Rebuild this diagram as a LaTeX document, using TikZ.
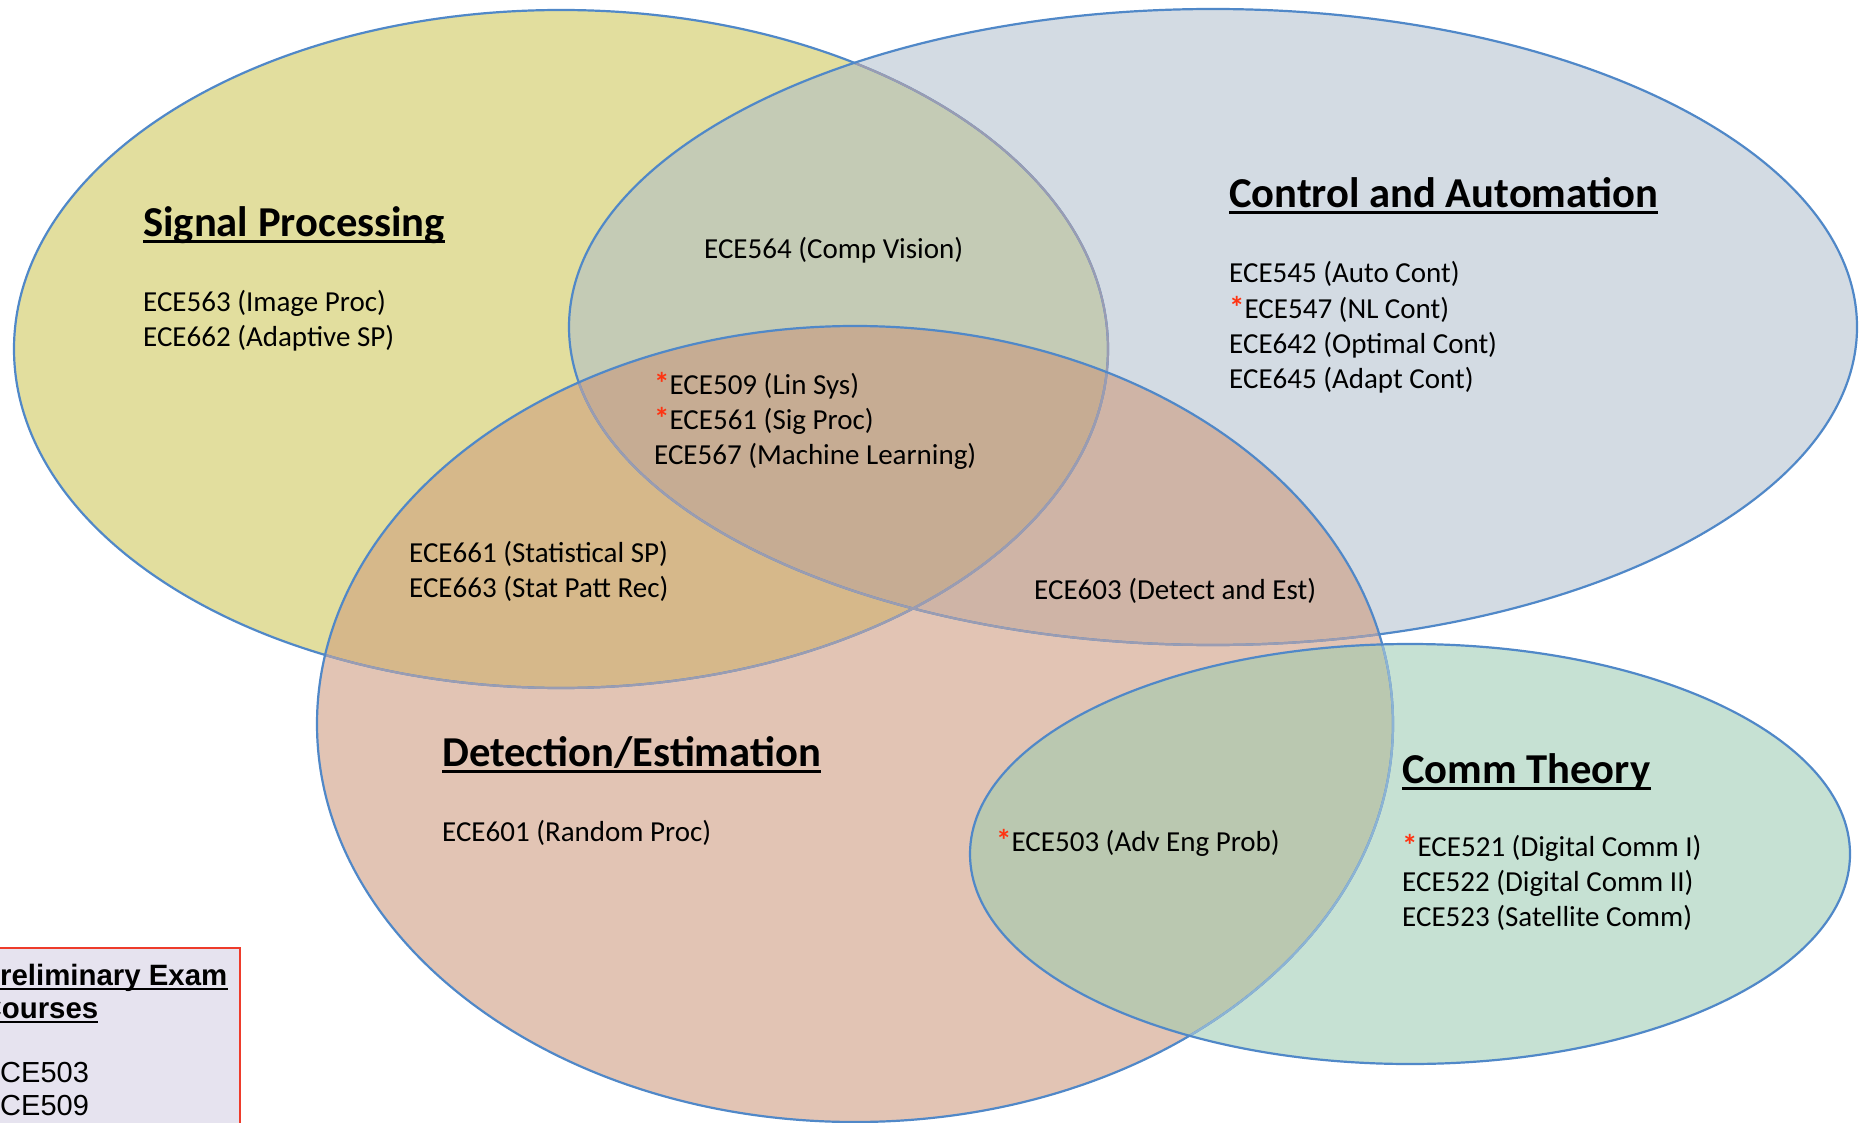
\documentclass[tikz,border=0pt]{standalone}
\usepackage{fontspec}
\setmainfont{Carlito}
\newfontfamily\arialfont{Liberation Sans}
\definecolor{cY}{HTML}{E2DE9E}
\definecolor{cB}{HTML}{D3DBE3}
\definecolor{cO}{HTML}{E2C4B4}
\definecolor{cG}{HTML}{C6E1D3}
\definecolor{cYB}{HTML}{C4CBB5}
\definecolor{cYO}{HTML}{D6B88A}
\definecolor{cYBO}{HTML}{C6AC93}
\definecolor{cBO}{HTML}{CFB4A6}
\definecolor{cOG}{HTML}{BAC8B0}
\definecolor{edge}{HTML}{5088C8}
\definecolor{edgeMuted}{HTML}{9A9CB2}
\definecolor{edgeLight}{HTML}{8CB3D4}
\definecolor{starred}{HTML}{FF3311}
\definecolor{boxfill}{HTML}{E6E3EF}
\definecolor{boxline}{HTML}{EE3B2B}
\def\ellY{(561,349) ellipse [x radius=547, y radius=339]}
\def\ellB{(1213,327) ellipse [x radius=644, y radius=318]}
\def\ellO{(855,724) ellipse [x radius=538, y radius=398]}
\def\ellG{(1410,854) ellipse [x radius=440, y radius=210]}
\newcommand{\st}{\textcolor{starred}{\fontsize{31}{35}\selectfont\bfseries *}}
\begin{document}
\begin{tikzpicture}[x=1pt,y=-1pt,
  body/.style={anchor=base west, inner sep=0pt, font=\fontsize{29}{35}\selectfont},
  head/.style={anchor=base west, inner sep=0pt, font=\fontsize{42.6}{50}\selectfont\bfseries},
  boxtxt/.style={anchor=base west, inner sep=0pt, font=\arialfont\fontsize{29}{33}\selectfont},
  boxhead/.style={anchor=base west, inner sep=0pt, font=\arialfont\fontsize{29.4}{33}\selectfont\bfseries},
  uline/.style={line width=3pt, black},
  ring/.style={draw=edge, line width=2.2pt},
  ringmuted/.style={draw=edgeMuted, line width=2.2pt},
  ringlight/.style={draw=edgeLight, line width=2.2pt}]
\useasboundingbox (0,0) rectangle (1868,1123);
\clip (0,0) rectangle (1868,1123);
\fill[white] (0,0) rectangle (1868,1123);
% fills
\fill[cY] \ellY;
\fill[cB] \ellB;
\fill[cO] \ellO;
\fill[cG] \ellG;
\begin{scope}\clip \ellY; \fill[cYB] \ellB; \end{scope}
\begin{scope}\clip \ellY; \fill[cYO] \ellO; \end{scope}
\begin{scope}\clip \ellB; \fill[cBO] \ellO; \end{scope}
\begin{scope}\clip \ellY; \clip \ellB; \fill[cYBO] \ellO; \end{scope}
\begin{scope}\clip \ellO; \fill[cOG] \ellG; \end{scope}
% outlines
\path[ring] \ellY;
\begin{scope}\clip \ellB; \path[ringmuted] \ellY; \end{scope}
\path[ring] \ellB;
\begin{scope}\clip \ellO; \path[ringmuted] \ellY; \path[ringmuted] \ellB; \end{scope}
\path[ring] \ellO;
\begin{scope}\clip \ellG; \path[ringlight] \ellO; \end{scope}
\path[ring] \ellG;
% Signal Processing
\node[head] (hSP) at (143,237) {Signal Processing};
\draw[uline] ([yshift=-5pt]hSP.base west) -- ([yshift=-5pt]hSP.base east);
\node[body] (sp1) at (143,312) {ECE563 (Image Proc)};
\node[body] (sp2) at (143,346) {ECE662 (Adaptive SP)};
% Control and Automation
\node[head] (hCA) at (1229,208) {Control and Automation};
\draw[uline] ([yshift=-5pt]hCA.base west) -- ([yshift=-5pt]hCA.base east);
\node[body] (ca1) at (1229,283) {ECE545 (Auto Cont)};
\node[body] (ca2) at (1229,318) {\st ECE547 (NL Cont)};
\node[body] (ca3) at (1229,353) {ECE642 (Optimal Cont)};
\node[body] (ca4) at (1229,388) {ECE645 (Adapt Cont)};
% SP & Control
\node[body] (spca) at (704,259) {ECE564 (Comp Vision)};
% triple
\node[body] (t1) at (654,394) {\st ECE509 (Lin Sys)};
\node[body] (t2) at (654,429) {\st ECE561 (Sig Proc)};
\node[body] (t3) at (654,464) {ECE567 (Machine Learning)};
% SP & Detection
\node[body] (spde1) at (409,562) {ECE661 (Statistical SP)};
\node[body] (spde2) at (409,597) {ECE663 (Stat Patt Rec)};
% Control & Detection
\node[body] (cade) at (1034,599) {ECE603 (Detect and Est)};
% Detection
\node[head] (hDE) at (442,766) {Detection/Estimation};
\draw[uline] ([yshift=-5pt]hDE.base west) -- ([yshift=-5pt]hDE.base east);
\node[body] (de1) at (442,841) {ECE601 (Random Proc)};
% Detection & Comm
\node[body] (deco) at (996,851) {\st ECE503 (Adv Eng Prob)};
% Comm Theory
\node[head] (hCT) at (1402,783) {Comm Theory};
\draw[uline] ([yshift=-5pt]hCT.base west) -- ([yshift=-5pt]hCT.base east);
\node[body] (ct1) at (1402,856) {\st ECE521 (Digital Comm I)};
\node[body] (ct2) at (1402,891) {ECE522 (Digital Comm II)};
\node[body] (ct3) at (1402,926) {ECE523 (Satellite Comm)};
% Preliminary exam box
\draw[draw=boxline, fill=boxfill, line width=2.8pt] (-40,948) rectangle (240,1160);
\node[boxhead] (bx1) at (-19.6,985) {Preliminary Exam};
\draw[line width=2.5pt] ([yshift=-4pt]bx1.base west) -- ([yshift=-4pt]bx1.base east);
\node[boxhead] (bx2) at (-19.6,1018) {Courses};
\draw[line width=2.5pt] ([yshift=-4pt]bx2.base west) -- ([yshift=-4pt]bx2.base east);
\node[boxtxt] (bx3) at (-19.3,1082) {ECE503};
\node[boxtxt] (bx4) at (-19.3,1115) {ECE509};
\end{tikzpicture}
\end{document}
